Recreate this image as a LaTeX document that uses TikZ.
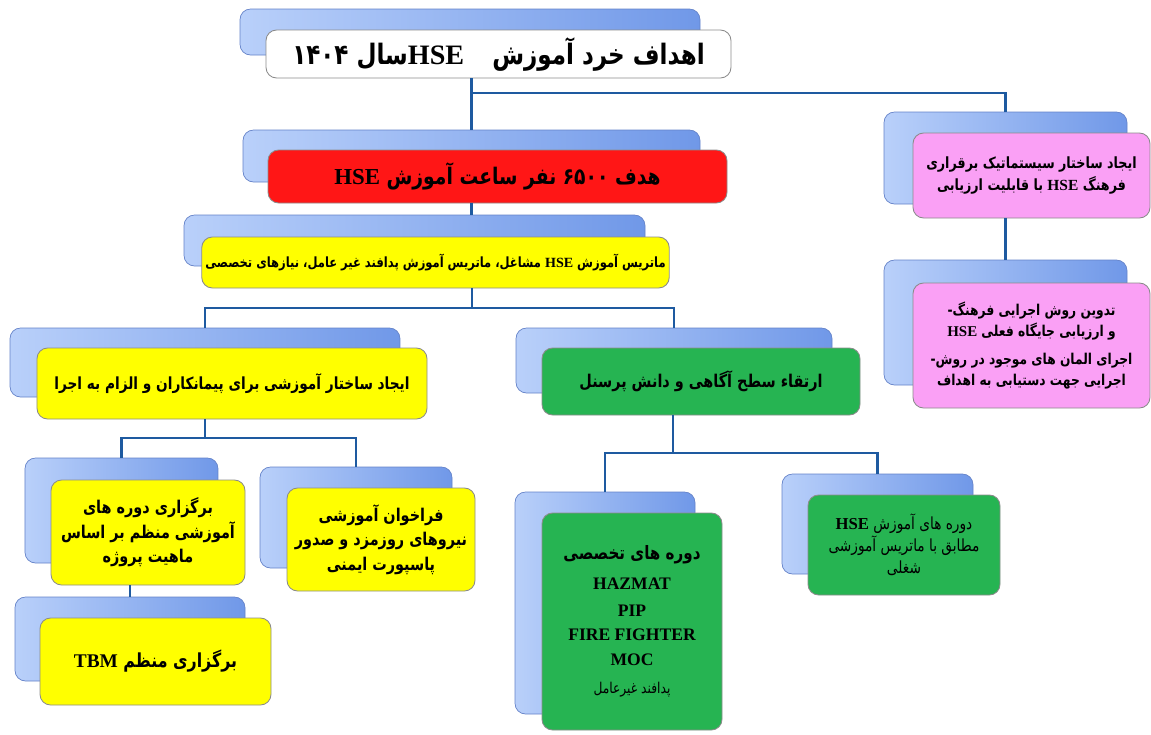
\documentclass[tikz,border=0pt]{standalone}
\usepackage{fontspec}
\newfontfamily\fafont[Script=Arabic, FakeStretch=0.82]{DejaVu Sans}
\newfontfamily\latfont{Liberation Serif}
\TeXXeTstate=1
\newcommand{\fa}[1]{\beginR #1\endR}
\newcommand{\hse}{\beginL{\latfont\bfseries HSE}\endL}
\newcommand{\lat}[1]{{\latfont\bfseries #1}}
\definecolor{cardlight}{RGB}{185,208,250}
\definecolor{carddark}{RGB}{112,152,232}
\definecolor{cardrim}{RGB}{100,130,200}
\definecolor{linkblue}{RGB}{30,90,160}
\definecolor{boxyellow}{RGB}{255,255,0}
\definecolor{boxred}{RGB}{255,22,22}
\definecolor{boxgreen}{RGB}{38,180,82}
\definecolor{boxpink}{RGB}{250,160,245}
\tikzset{
	backcard/.style={rounded corners=6pt, draw=cardrim, line width=0.4pt, left color=cardlight, right color=carddark},
	frontbox/.style={rounded corners=6pt, draw=black!45, line width=0.5pt, align=center, inner sep=2pt, font=\fafont\bfseries},
	link/.style={draw=linkblue, line width=1.4pt},
}

\begin{document}
\begin{tikzpicture}
			%%%%% START %%%%%
			\useasboundingbox (0,0) rectangle (23.02,-14.68);
			
			% title
			\node[backcard, minimum width=9.2cm, minimum height=0.92cm] (titleB) at (9.4,-0.64) {};
			\node[frontbox, fill=white, minimum width=9.3cm, minimum height=0.96cm, font=\fafont\bfseries\fontsize{16}{18}\selectfont] (title) at (9.97,-1.08) {\fa{اهداف خرد آموزش\quad\beginL{\latfont HSE}\endL سال ۱۴۰۴}};
			
			% red goal
			\node[backcard, minimum width=9.14cm, minimum height=1.04cm] (redB) at (9.43,-3.12) {};
			\node[frontbox, fill=boxred, minimum width=9.18cm, minimum height=1.06cm, font=\fafont\bfseries\fontsize{13}{15}\selectfont] (goal) at (9.95,-3.53) {\fa{هدف ۶۵۰۰ نفر ساعت آموزش \hse}};
			
			% matrix
			\node[backcard, minimum width=9.22cm, minimum height=1.02cm] (matrixB) at (8.29,-4.81) {};
			\node[frontbox, fill=boxyellow, minimum width=9.22cm, minimum height=1.02cm, font=\fafont\bfseries\fontsize{8}{10}\selectfont] (matrix) at (8.71,-5.25) {\fa{ماتریس آموزش \hse{} مشاغل، ماتریس آموزش پدافند غیر عامل، نیازهای تخصصی}};
			
			% contractors
			\node[backcard, minimum width=7.8cm, minimum height=1.38cm] (contrB) at (4.1,-7.25) {};
			\node[frontbox, fill=boxyellow, minimum width=7.8cm, minimum height=1.42cm, font=\fafont\bfseries\fontsize{9.5}{11}\selectfont] (contr) at (4.64,-7.67) {\fa{ایجاد ساختار آموزشی برای پیمانکاران و الزام به اجرا}};
			
			% awareness
			\node[backcard, minimum width=6.32cm, minimum height=1.3cm] (awareB) at (13.48,-7.21) {};
			\node[frontbox, fill=boxgreen, minimum width=6.36cm, minimum height=1.34cm, font=\fafont\bfseries\fontsize{10}{12}\selectfont] (aware) at (14.02,-7.63) {\fa{ارتقاء سطح آگاهی و دانش پرسنل}};
			
			% regular courses
			\node[backcard, minimum width=3.86cm, minimum height=2.1cm] (regB) at (2.43,-10.21) {};
			\node[frontbox, fill=boxyellow, minimum width=3.88cm, minimum height=2.1cm, font=\fafont\bfseries\fontsize{10}{14}\selectfont] (reg) at (2.96,-10.65) {\fa{برگزاری دوره های}\\\fa{آموزشی منظم بر اساس}\\\fa{ماهیت پروژه}};
			
			% call for daily workers
			\node[backcard, minimum width=3.84cm, minimum height=2.02cm] (callB) at (7.12,-10.35) {};
			\node[frontbox, fill=boxyellow, minimum width=3.76cm, minimum height=2.06cm, font=\fafont\bfseries\fontsize{10}{14}\selectfont] (call) at (7.62,-10.79) {\fa{فراخوان آموزشی}\\\fa{نیروهای روزمزد و صدور}\\\fa{پاسپورت ایمنی}};
			
			% TBM
			\node[backcard, minimum width=4.6cm, minimum height=1.68cm] (tbmB) at (2.6,-12.78) {};
			\node[frontbox, fill=boxyellow, minimum width=4.62cm, minimum height=1.74cm, font=\fafont\bfseries\fontsize{11}{13}\selectfont] (tbm) at (3.11,-13.23) {\fa{برگزاری منظم \beginL\lat{TBM}\endL}};
			
			% special courses
			\node[backcard, minimum width=3.6cm, minimum height=4.44cm] (specB) at (12.1,-12.06) {};
			\node[frontbox, fill=boxgreen, minimum width=3.6cm, minimum height=4.34cm, font=\fafont\bfseries\fontsize{10}{14}\selectfont] (spec) at (12.64,-12.43) {{\fontsize{10.5}{16}\selectfont\fa{دوره های تخصصی}}\\[3pt]\lat{HAZMAT}\\[1pt]\lat{PIP}\\\lat{FIRE FIGHTER}\\\lat{MOC}\\[2pt]{\mdseries\fontsize{8.5}{12}\selectfont\fa{پدافند غیرعامل}}};
			
			% HSE courses
			\node[backcard, minimum width=3.82cm, minimum height=2.0cm] (hseB) at (17.55,-10.48) {};
			\node[frontbox, fill=boxgreen, minimum width=3.84cm, minimum height=2.0cm, font=\fafont\fontsize{9.5}{12.5}\selectfont] (hsec) at (18.08,-10.9) {\fa{دوره های آموزش \hse}\\\fa{مطابق با ماتریس آموزشی}\\\fa{شغلی}};
			
			% culture
			\node[backcard, minimum width=4.86cm, minimum height=1.84cm] (cultB) at (20.11,-3.16) {};
			\node[frontbox, fill=boxpink, minimum width=4.74cm, minimum height=1.7cm, font=\fafont\bfseries\fontsize{8.8}{13}\selectfont] (cult) at (20.63,-3.51) {\fa{ایجاد ساختار سیستماتیک برقراری}\\\fa{فرهنگ \hse{} با قابلیت ارزیابی}};
			
			\node[backcard, minimum width=4.86cm, minimum height=2.5cm] (stepsB) at (20.11,-6.45) {};
			\node[frontbox, fill=boxpink, minimum width=4.74cm, minimum height=2.5cm, font=\fafont\bfseries\fontsize{8.5}{12}\selectfont] (steps) at (20.63,-6.91) {-\fa{تدوین روش اجرایی فرهنگ}\\\fa{و ارزیابی جایگاه فعلی \hse}\\[4pt]-\fa{اجرای المان های موجود در روش}\\\fa{اجرایی جهت دستیابی به اهداف}};
			
			% connectors
			\coordinate (j1) at (9.44,-1.86);
			\coordinate (j2) at (9.44,-6.16);
			\coordinate (j3) at (4.1,-8.76);
			\coordinate (j4) at (13.46,-9.06);
			
			\draw[link] (title.south -| redB.north) -- (redB.north);
			\draw[link] (j1) -| (cultB.north);
			\draw[link] (goal.south -| redB.north) -- (matrixB.north -| redB.north);
			\draw[link] (matrix.south -| j2) -- (j2);
			\draw[link] (contrB.north) |- (j2) -| (awareB.north);
			\draw[link] (contr.south -| j3) -- (j3);
			\draw[link] (regB.north) |- (j3) -| (callB.north);
			\draw[link] (reg.south -| tbmB.north) -- (tbmB.north);
			\draw[link] (aware.south -| j4) -- (j4);
			\draw[link] (specB.north) |- (j4) -| (hseB.north);
			\draw[link] (cult.south -| stepsB.north) -- (stepsB.north);
			
			%%%%% END %%%%%
\end{tikzpicture}
\end{document}
